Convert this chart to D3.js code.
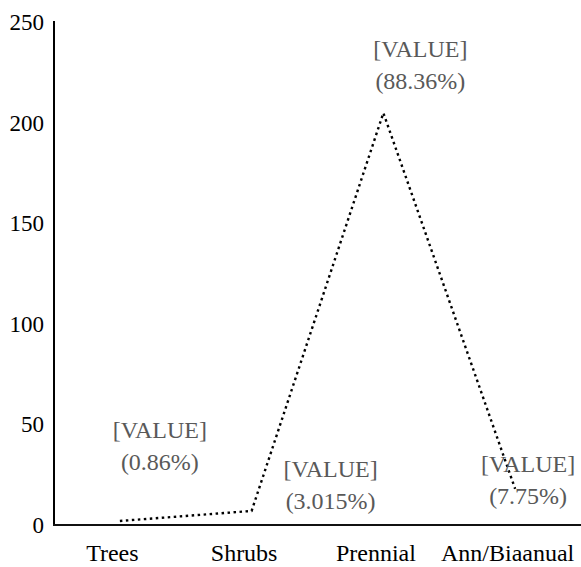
<!DOCTYPE html>
<html>
<head>
<meta charset="utf-8">
<script src="https://cdn.jsdelivr.net/npm/d3@7"></script>
<style>
  html, body { margin: 0; padding: 0; background: #fff; }
  svg { display: block; font-family: "Liberation Serif", "Times New Roman", serif; }
</style>
</head>
<body>
<svg id="chart" width="581" height="567"></svg>
<script>
// ---- data ----
const categories = ["Trees", "Shrubs", "Prennial", "Ann/Biaanual"];
const values = [2, 7, 205, 18];
const labelTop = ["[VALUE]", "[VALUE]", "[VALUE]", "[VALUE]"];
const labelPct = ["(0.86%)", "(3.015%)", "(88.36%)", "(7.75%)"];
const yTicks = [0, 50, 100, 150, 200, 250];

// ---- layout (not data) ----
const labelDx = [40, 79, 37, 13];
const labelDy = [-83, -34, -56, -17];
const mLeft = 54, mRight = 581, mTop = 22.5, mBottom = 525;
const tickFont = 23, labelFont = 24;

const svg = d3.select("#chart");

const x = d3.scalePoint().domain(categories).range([mLeft, mRight]).padding(0.5);
const y = d3.scaleLinear().domain([0, 250]).range([mBottom, mTop]);

// y axis
const yAxis = svg.append("g")
  .attr("transform", `translate(${mLeft},0)`)
  .call(d3.axisLeft(y).tickValues(yTicks).tickSize(0).tickPadding(10));
yAxis.attr("font-family", null);
yAxis.select(".domain").remove();
yAxis.selectAll("text").attr("font-size", tickFont).attr("fill", "#000");
svg.append("line")
  .attr("x1", mLeft).attr("x2", mLeft)
  .attr("y1", mTop - 1.5).attr("y2", mBottom)
  .attr("stroke", "#000").attr("stroke-width", 2);

// x axis
const xAxis = svg.append("g")
  .attr("transform", `translate(0,${mBottom})`)
  .call(d3.axisBottom(x).tickSize(0).tickPadding(0));
xAxis.attr("font-family", null);
xAxis.select(".domain").remove();
xAxis.selectAll("text")
  .attr("font-size", labelFont).attr("fill", "#000")
  .attr("dy", null).attr("y", 36).attr("dx", -8);
svg.append("line")
  .attr("x1", mLeft - 1).attr("x2", mRight)
  .attr("y1", mBottom).attr("y2", mBottom)
  .attr("stroke", "#111").attr("stroke-width", 2);

// line
const line = d3.line().x((d, i) => x(categories[i])).y(d => y(d));
svg.append("path")
  .datum(values)
  .attr("d", line)
  .attr("fill", "none")
  .attr("stroke", "#000")
  .attr("stroke-width", 2.4)
  .attr("stroke-dasharray", "2.5,3.5");

// data labels
const lbl = svg.append("g").attr("font-size", labelFont).attr("fill", "#595959").attr("text-anchor", "middle");
values.forEach((v, i) => {
  const cx = x(categories[i]) + labelDx[i];
  const cy = y(v) + labelDy[i];
  lbl.append("text").attr("x", cx).attr("y", cy).text(labelTop[i]);
  lbl.append("text").attr("x", cx).attr("y", cy + 32).text(labelPct[i]);
});
</script>
</body>
</html>
